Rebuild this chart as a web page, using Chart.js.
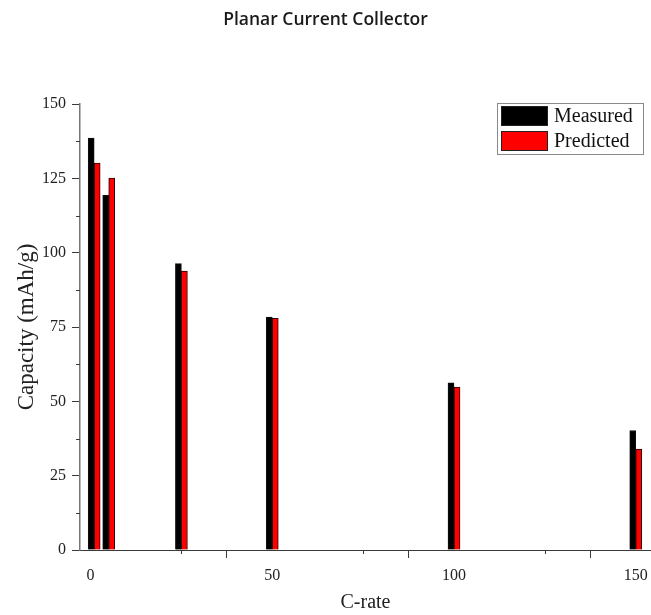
<!DOCTYPE html>
<html>
<head>
<meta charset="utf-8">
<script src="https://cdn.jsdelivr.net/npm/chart.js@4/dist/chart.umd.min.js"></script>
<style>
  html, body { margin: 0; padding: 0; background: #fff; }
  #wrap { width: 651px; height: 615px; }
</style>
</head>
<body>
<div id="wrap"><canvas id="c" width="651" height="615"></canvas></div>
<script>
const chartTitle = "Planar Current Collector";
const xTitle = "C-rate";
const yTitle = "Capacity (mAh/g)";
const seriesNames = ["Measured", "Predicted"];
const cRates = [1, 5, 25, 50, 100, 150];
const measured = [138.5, 119.3, 96.3, 78.3, 56.2, 40.2];
const predicted = [130.1, 125.1, 93.8, 77.9, 54.8, 33.9];
const xTickValues = [0, 25, 50, 75, 100, 125, 150];
const xMajorLabels = [0, 50, 100, 150];
const yTickValues = [0, 12.5, 25, 37.5, 50, 62.5, 75, 87.5, 100, 112.5, 125, 137.5, 150];
const yMajorLabels = [0, 25, 50, 75, 100, 125, 150];

const serif = "'Liberation Serif', 'Times New Roman', serif";
const axisColor = '#3a3a3a';

const minorTicks = {
  id: 'minorTicks',
  afterDraw(chart) {
    const ctx = chart.ctx;
    const xs = chart.scales.x, ys = chart.scales.y;
    ctx.save();
    ctx.strokeStyle = axisColor;
    ctx.lineWidth = 1;
    ctx.beginPath();
    xTickValues.forEach(v => {
      if (!xMajorLabels.includes(v)) {
        const px = Math.round(xs.getPixelForValue(v)) + 0.5;
        ctx.moveTo(px, ys.bottom);
        ctx.lineTo(px, ys.bottom + 4);
      }
    });
    yTickValues.forEach(v => {
      if (!yMajorLabels.includes(v)) {
        const py = Math.round(ys.getPixelForValue(v)) + 0.5;
        ctx.moveTo(xs.left, py);
        ctx.lineTo(xs.left - 4, py);
      }
    });
    ctx.stroke();
    ctx.restore();
  }
};

const insideLegend = {
  id: 'insideLegend',
  afterDraw(chart) {
    const ctx = chart.ctx;
    const area = chart.chartArea;
    const bx = area.right - 154, by = area.top - 1, bw = 146, bh = 51;
    ctx.save();
    ctx.strokeStyle = '#8a8a8a';
    ctx.lineWidth = 1;
    ctx.strokeRect(bx + 0.5, by + 0.5, bw, bh);
    ctx.font = "20px " + serif;
    ctx.textBaseline = 'middle';
    ctx.textAlign = 'left';
    chart.data.datasets.forEach((ds, i) => {
      const sy = by + 3 + i * 25;
      ctx.fillStyle = ds.backgroundColor;
      ctx.fillRect(bx + 4, sy, 47, 20);
      ctx.strokeStyle = '#222';
      ctx.strokeRect(bx + 4.5, sy + 0.5, 46, 19);
      ctx.fillStyle = '#111';
      ctx.fillText(ds.label, bx + 57, sy + 11);
    });
    ctx.restore();
  }
};

new Chart(document.getElementById('c'), {
  type: 'bar',
  data: {
    datasets: [
      {
        label: seriesNames[0],
        data: cRates.map((x, i) => ({ x: x, y: measured[i] })),
        backgroundColor: '#000000',
        borderColor: '#111111',
        borderWidth: 1,
        barThickness: 6
      },
      {
        label: seriesNames[1],
        data: cRates.map((x, i) => ({ x: x, y: predicted[i] })),
        backgroundColor: '#ff0000',
        borderColor: '#2a0000',
        borderWidth: 1,
        barThickness: 6
      }
    ]
  },
  options: {
    responsive: false,
    animation: false,
    layout: { padding: { left: 0, right: 0, top: 0, bottom: 0 } },
    plugins: {
      legend: { display: false },
      tooltip: { enabled: false },
      title: {
        display: true,
        text: chartTitle,
        color: '#1a1a1a',
        font: { family: "'Open Sans', sans-serif", size: 17.5, weight: '600' },
        padding: { top: 10, bottom: 73 }
      }
    },
    scales: {
      x: {
        type: 'linear',
        min: -2.9,
        max: 154.2,
        offset: false,
        afterBuildTicks(scale) { scale.ticks = xTickValues.map(v => ({ value: v })); },
        afterFit(scale) { scale.height = 65; scale.paddingLeft = 0; scale.paddingRight = 0; },
        ticks: {
          autoSkip: false,
          maxRotation: 0,
          padding: 8,
          color: '#222',
          font: { family: serif, size: 16 },
          callback: v => xMajorLabels.includes(v) ? String(v) : ''
        },
        grid: {
          drawOnChartArea: false,
          drawTicks: true,
          tickLength: 8,
          tickColor: c => (c.tick && xMajorLabels.includes(c.tick.value)) ? axisColor : 'rgba(0,0,0,0)'
        },
        border: { display: true, color: axisColor, width: 1 },
        title: {
          display: true,
          text: xTitle,
          color: '#222',
          font: { family: serif, size: 20 },
          padding: { top: 0, bottom: 0 }
        }
      },
      y: {
        min: 0,
        max: 150,
        afterBuildTicks(scale) { scale.ticks = yTickValues.map(v => ({ value: v })); },
        afterFit(scale) { scale.width = 80; scale.paddingTop = 0; scale.paddingBottom = 0; },
        ticks: {
          autoSkip: false,
          padding: 6,
          color: '#222',
          font: { family: serif, size: 16 },
          callback: v => yMajorLabels.includes(v) ? String(v) : ''
        },
        grid: {
          drawOnChartArea: false,
          drawTicks: true,
          tickLength: 8,
          tickColor: c => (c.tick && yMajorLabels.includes(c.tick.value)) ? axisColor : 'rgba(0,0,0,0)'
        },
        border: { display: true, color: '#777', width: 1.5 },
        title: {
          display: true,
          text: yTitle,
          color: '#222',
          font: { family: serif, size: 23 },
          padding: { top: 13, bottom: 0 }
        }
      }
    }
  },
  plugins: [minorTicks, insideLegend]
});
</script>
</body>
</html>
